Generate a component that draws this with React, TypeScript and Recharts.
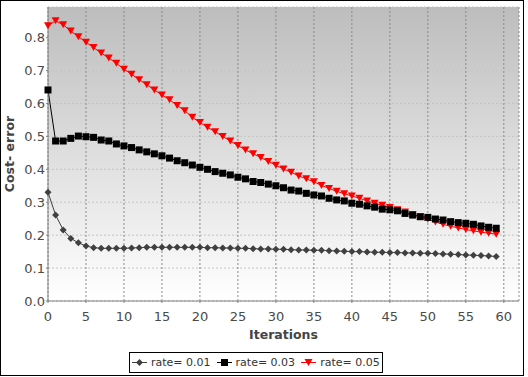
import React from 'react';
import { LineChart, Line, XAxis, YAxis, CartesianGrid, Legend } from 'recharts';

const iterations = [
  0, 1, 2, 3, 4, 5, 6, 7, 8, 9, 10, 11, 12, 13, 14, 15, 16, 17, 18, 19,
  20, 21, 22, 23, 24, 25, 26, 27, 28, 29, 30, 31, 32, 33, 34, 35, 36, 37, 38, 39,
  40, 41, 42, 43, 44, 45, 46, 47, 48, 49, 50, 51, 52, 53, 54, 55, 56, 57, 58, 59,
];

const rate001 = [
  0.33, 0.261, 0.216, 0.19, 0.177, 0.167, 0.162, 0.16, 0.16, 0.16,
  0.16, 0.161, 0.162, 0.163, 0.163, 0.163, 0.163, 0.163, 0.163, 0.163,
  0.163, 0.162, 0.162, 0.161, 0.161, 0.16, 0.16, 0.159, 0.158, 0.158,
  0.157, 0.157, 0.156, 0.155, 0.155, 0.154, 0.154, 0.153, 0.152, 0.151,
  0.15, 0.15, 0.149, 0.148, 0.148, 0.147, 0.147, 0.146, 0.146, 0.145,
  0.145, 0.144, 0.143, 0.142, 0.141, 0.14, 0.139, 0.138, 0.137, 0.135,
];

const rate003 = [
  0.641, 0.486, 0.486, 0.494, 0.501, 0.499, 0.497, 0.489, 0.486, 0.477,
  0.471, 0.466, 0.459, 0.453, 0.447, 0.441, 0.434, 0.426, 0.42, 0.413,
  0.406, 0.4, 0.393, 0.388, 0.383, 0.376, 0.371, 0.363, 0.36, 0.355,
  0.35, 0.344, 0.337, 0.334, 0.327, 0.322, 0.319, 0.312, 0.307, 0.304,
  0.297, 0.294, 0.289, 0.285, 0.279, 0.277, 0.274, 0.266, 0.261, 0.256,
  0.254, 0.249, 0.246, 0.241, 0.238, 0.236, 0.233, 0.228, 0.224, 0.221,
];

const rate005 = [
  0.836, 0.851, 0.839, 0.82, 0.803, 0.786, 0.77, 0.753, 0.738, 0.722,
  0.704, 0.689, 0.672, 0.657, 0.641, 0.626, 0.611, 0.594, 0.578, 0.558,
  0.542, 0.528, 0.514, 0.5, 0.486, 0.472, 0.459, 0.447, 0.436, 0.424,
  0.412, 0.401, 0.391, 0.38, 0.371, 0.362, 0.351, 0.342, 0.333, 0.326,
  0.319, 0.312, 0.304, 0.297, 0.291, 0.284, 0.277, 0.27, 0.263, 0.255,
  0.248, 0.24, 0.233, 0.227, 0.222, 0.217, 0.213, 0.209, 0.206, 0.203,
];

const xTicks = [0, 5, 10, 15, 20, 25, 30, 35, 40, 45, 50, 55, 60];
const yTicks = [0, 0.1, 0.2, 0.3, 0.4, 0.5, 0.6, 0.7, 0.8];
const seriesNames = ['rate= 0.01', 'rate= 0.03', 'rate= 0.05'];

const data = iterations.map((x, i) => ({
  x,
  r1: rate001[i],
  r3: rate003[i],
  r5: rate005[i],
}));

const FONT = '"DejaVu Sans", sans-serif';
const S = 3.5;

const diamondPath = (cx: number, cy: number) =>
  `M${cx},${cy - S}L${cx + S},${cy}L${cx},${cy + S}L${cx - S},${cy}Z`;
const squarePath = (cx: number, cy: number) =>
  `M${cx - S},${cy - S}L${cx + S},${cy - S}L${cx + S},${cy + S}L${cx - S},${cy + S}Z`;
const trianglePath = (cx: number, cy: number) =>
  `M${cx - S - 0.5},${cy - S}L${cx + S + 0.5},${cy - S}L${cx},${cy + S}Z`;

const makeDot = (pathFn: (cx: number, cy: number) => string, color: string, prefix: string) =>
  (p: any) => {
    const { cx, cy, index } = p;
    if (cx == null || cy == null) return <g key={`${prefix}-${index}`} />;
    return <path key={`${prefix}-${index}`} d={pathFn(cx, cy)} fill={color} stroke="none" />;
  };

const LegendIcon = ({ kind, color }: { kind: number; color: string }) => {
  const cx = 7.5;
  const cy = 5.5;
  const d = kind === 0 ? diamondPath(cx, cy) : kind === 1 ? squarePath(cx, cy) : trianglePath(cx, cy);
  return (
    <svg width={15} height={11} style={{ display: 'block' }}>
      <line x1={0} y1={cy} x2={15} y2={cy} stroke={color} strokeWidth={1} />
      <path d={d} fill={color} />
    </svg>
  );
};

const legendColors = ['#404040', '#000000', '#ff0000'];

const LegendBox = () => (
  <div
    style={{
      boxSizing: 'border-box',
      width: 254,
      height: 21,
      border: '1px solid #000',
      background: '#fff',
      display: 'flex',
      alignItems: 'center',
      paddingLeft: 2,
      fontFamily: FONT,
      fontSize: 11,
      color: '#333',
      whiteSpace: 'nowrap',
    }}
  >
    {seriesNames.map((n, i) => (
      <div key={n} style={{ display: 'flex', alignItems: 'center', marginLeft: i === 0 ? 0 : 6 }}>
        <LegendIcon kind={i} color={legendColors[i]} />
        <span style={{ marginLeft: 4 }}>{n}</span>
      </div>
    ))}
  </div>
);

export default function App() {
  return (
    <div
      style={{
        position: 'absolute',
        left: 0,
        top: 0,
        width: 522,
        height: 374,
        border: '1px solid #000',
        background: '#fff',
      }}
    >
      <LineChart
        width={522}
        height={374}
        data={data}
        margin={{ top: 6, right: 4, bottom: 23, left: 0 }}
      >
        <defs>
          <linearGradient id="plotBg" x1="0" y1="0" x2="0" y2="1">
            <stop offset="0%" stopColor="#bdbdbd" />
            <stop offset="100%" stopColor="#ffffff" />
          </linearGradient>
        </defs>
        <CartesianGrid
          vertical={false}
          stroke="#c4c4c4"
          strokeDasharray="2 2"
          fill="url(#plotBg)"
          fillOpacity={1}
        />
        <CartesianGrid horizontal={false} stroke="#8a8a8a" strokeDasharray="2 2" />
        <XAxis
          dataKey="x"
          type="number"
          domain={[0, 62]}
          ticks={xTicks}
          interval={0}
          height={30}
          stroke="#808080"
          tickSize={2}
          tickMargin={9}
          tick={{ fill: '#4a4a4a', fontSize: 13, fontFamily: FONT }}
          label={(props: any) => {
            const vb = props.viewBox || {};
            return (
              <text
                x={vb.x + vb.width / 2}
                y={vb.y + 38}
                textAnchor="middle"
                fill="#444"
                fontFamily={FONT}
                fontSize={12.5}
                fontWeight="bold"
              >
                Iterations
              </text>
            );
          }}
        />
        <YAxis
          type="number"
          domain={[0, 0.893]}
          ticks={yTicks}
          interval={0}
          width={47}
          stroke="#808080"
          tickSize={2}
          tickMargin={1}
          tickFormatter={(v: number) => v.toFixed(1)}
          tick={{ fill: '#4a4a4a', fontSize: 13, fontFamily: FONT }}
          label={(props: any) => {
            const vb = props.viewBox || {};
            const x = 8;
            const y = vb.y + vb.height / 2;
            return (
              <text
                x={x}
                y={y}
                transform={`rotate(-90, ${x}, ${y})`}
                textAnchor="middle"
                dominantBaseline="central"
                fill="#444"
                fontFamily={FONT}
                fontSize={12.5}
                fontWeight="bold"
              >
                Cost- error
              </text>
            );
          }}
        />
        <YAxis
          yAxisId="outline"
          orientation="right"
          type="number"
          domain={[0, 0.893]}
          width={0}
          tick={false}
          tickLine={false}
          axisLine={{ stroke: '#808080' }}
        />
        <Legend
          verticalAlign="bottom"
          content={() => <LegendBox />}
          wrapperStyle={{ left: 128, bottom: 2, width: 254, height: 21 }}
        />
        <Line
          dataKey="r5"
          name={seriesNames[2]}
          stroke="#ff0000"
          strokeWidth={1}
          isAnimationActive={false}
          dot={makeDot(trianglePath, '#ff0000', 'r5')}
          activeDot={false}
        />
        <Line
          dataKey="r3"
          name={seriesNames[1]}
          stroke="#000000"
          strokeWidth={1}
          isAnimationActive={false}
          dot={makeDot(squarePath, '#000000', 'r3')}
          activeDot={false}
        />
        <Line
          dataKey="r1"
          name={seriesNames[0]}
          stroke="#404040"
          strokeWidth={1}
          isAnimationActive={false}
          dot={makeDot(diamondPath, '#404040', 'r1')}
          activeDot={false}
        />
      </LineChart>
    </div>
  );
}
